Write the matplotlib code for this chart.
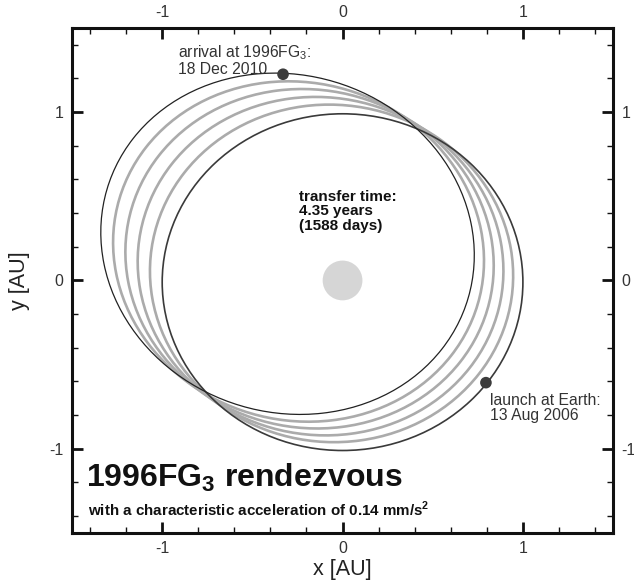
import matplotlib
matplotlib.use("Agg")
import matplotlib.pyplot as plt
from matplotlib.patches import Ellipse
from matplotlib.ticker import MultipleLocator

plt.rcParams['font.family'] = ['Liberation Sans', 'DejaVu Sans']
plt.rcParams['mathtext.fontset'] = 'custom'
plt.rcParams['mathtext.rm'] = 'Liberation Sans'
plt.rcParams['mathtext.bf'] = 'Liberation Sans:bold'
plt.rcParams['axes.unicode_minus'] = False

# ---- data (AU) ----
# Earth orbit
earth_center = (0.0, -0.01)
earth_width = 2.0
earth_height = 2.0
# 1996 FG3 orbit (ellipse)
ast_center = (-0.305, 0.218)
ast_width = 2.12
ast_height = 1.976
ast_angle = -36.2
# intermediate spiral loops
loop_cx = [-0.061, -0.122, -0.183, -0.244]
loop_cy = [0.042, 0.085, 0.129, 0.172]
loop_w = [2.024, 2.048, 2.072, 2.096]
loop_h = [1.995, 1.990, 1.986, 1.981]
loop_angle = [-36.2, -36.2, -36.2, -36.2]
# events
launch_xy = (0.795, -0.607)
arrival_xy = (-0.33, 1.225)
sun_xy = (0.0, 0.0)

xticks = [-1, 0, 1]
yticks = [-1, 0, 1]

fig = plt.figure(figsize=(6.34, 5.82), dpi=100)
ax = fig.add_axes([0.1136, 0.0842, 0.8534, 0.8678])
ax.set_xlim(-1.5, 1.5)
ax.set_ylim(-1.5, 1.5)

# sun
ax.scatter([sun_xy[0]], [sun_xy[1]], s=820, color='#d6d6d6', edgecolor='none', zorder=1)

# gray loops
for cx, cy, w, h, a in zip(loop_cx, loop_cy, loop_w, loop_h, loop_angle):
    ax.add_patch(Ellipse((cx, cy), w, h, angle=a, fill=False,
                         edgecolor='#ababab', linewidth=1.9, zorder=2))

# Earth orbit
ax.add_patch(Ellipse(earth_center, earth_width, earth_height, fill=False,
                     edgecolor='#3a3a3a', linewidth=1.2, zorder=3))
# asteroid orbit
ax.add_patch(Ellipse(ast_center, ast_width, ast_height, angle=ast_angle, fill=False,
                     edgecolor='#222222', linewidth=0.9, zorder=3))

# markers
ax.scatter([launch_xy[0], arrival_xy[0]], [launch_xy[1], arrival_xy[1]],
           s=70, color='#3c3c3c', zorder=5, edgecolor='none')

txtc = '#333333'
ax.text(-0.91, 1.31, 'arrival at 1996FG$_3$:\n18 Dec 2010', fontsize=11.3,
        color=txtc, ha='left', va='center', linespacing=1.0)
ax.text(0.82, -0.755, 'launch at Earth:\n13 Aug 2006', fontsize=11.3,
        color=txtc, ha='left', va='center', linespacing=1.0)
ax.text(-0.24, 0.41, 'transfer time:\n4.35 years\n(1588 days)', fontsize=11,
        fontweight='bold', color='#111111', ha='left', va='center', linespacing=1.05)
ax.text(-1.42, -1.17, r'1996FG$_\mathbf{3}$ rendezvous', fontsize=23,
        fontweight='bold', color='#111111', ha='left', va='center')
ax.text(-1.41, -1.36, r'with a characteristic acceleration of 0.14 mm/s$^\mathbf{2}$',
        fontsize=10.9, fontweight='bold', color='#111111', ha='left', va='center')

# axes styling
ax.set_xticks(xticks)
ax.set_yticks(yticks)
ax.xaxis.set_minor_locator(MultipleLocator(0.2))
ax.yaxis.set_minor_locator(MultipleLocator(0.2))
ax.tick_params(which='both', direction='in', top=True, right=True,
               labeltop=True, labelright=True, colors='#111111',
               labelcolor='#333333', labelsize=11.5, pad=6)
ax.tick_params(which='major', length=8, width=2.0)
ax.tick_params(which='minor', length=4.5, width=1.0)
for sp in ax.spines.values():
    sp.set_linewidth(2.2)
    sp.set_color('#111111')

ax.set_xlabel('x [AU]', fontsize=15.5, color='#222222', labelpad=2)
ax.set_ylabel('y [AU]', fontsize=15.5, color='#222222', labelpad=14)

fig.savefig('out.png', dpi=100)
